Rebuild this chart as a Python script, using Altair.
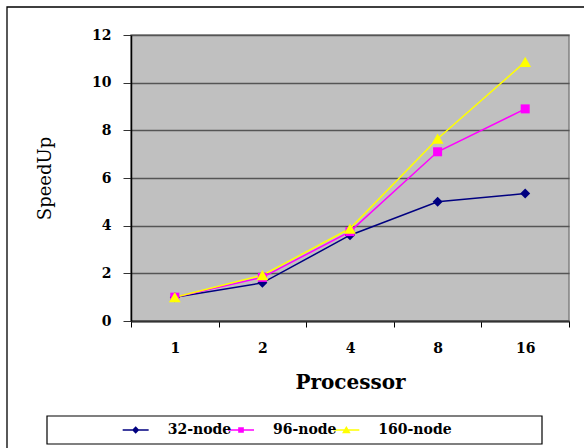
import altair as alt
import pandas as pd

processors = ["1", "2", "4", "8", "16"]
series_names = ["32-node", "96-node", "160-node"]
speed_32 = [1.0, 1.6, 3.6, 5.0, 5.35]
speed_96 = [1.0, 1.83, 3.75, 7.1, 8.9]
speed_160 = [1.0, 1.92, 3.88, 7.65, 10.87]
colors = ["#000080", "#FF00FF", "#FFFF00"]
shapes = ["diamond", "square", "triangle-up"]
shape_sizes = [100, 81, 140]
legend_paths = [
    "M-1,0L1,0"
    "M0,-0.2L0.2,0L0,0.2L-0.2,0Z"
    "M0,-0.14L0.14,0L0,0.14L-0.14,0Z"
    "M0,-0.08L0.08,0L0,0.08L-0.08,0Z"
    "M0,-0.02L0.02,0L0,0.02L-0.02,0Z",
    "M-1,0L1,0"
    "M-0.16,-0.16L0.16,-0.16L0.16,0.16L-0.16,0.16Z"
    "M-0.11,-0.11L0.11,-0.11L0.11,0.11L-0.11,0.11Z"
    "M-0.06,-0.06L0.06,-0.06L0.06,0.06L-0.06,0.06Z"
    "M-0.01,-0.01L0.01,-0.01L0.01,0.01L-0.01,0.01Z",
    "M-1,0L1,0"
    "M0,-0.2L0.23,0.19L-0.23,0.19Z"
    "M0,-0.11L0.15,0.14L-0.15,0.14Z"
    "M0,-0.02L0.07,0.09L-0.07,0.09Z",
]

rows = []
for name, vals in zip(series_names, [speed_32, speed_96, speed_160]):
    for p, v in zip(processors, vals):
        rows.append({"Processor": p, "SpeedUp": v, "series": name})
df = pd.DataFrame(rows)
legend_df = pd.DataFrame({"series": series_names})

FONT = "DejaVu Serif"

x_scale = alt.Scale(type="band", domain=processors, paddingInner=0, paddingOuter=0)
x_axis = alt.Axis(
    title="Processor",
    labelAngle=0,
    tickBand="extent",
    tickSize=6,
    tickColor="#000000",
    domainColor="#333333",
    domainWidth=2,
    labelPadding=14,
    labelFont=FONT,
    labelFontSize=14,
    labelFontWeight="bold",
    labelColor="#000000",
    titleFont=FONT,
    titleFontSize=20,
    titleFontWeight="bold",
    titleColor="#000000",
    titleY=61,
    titleBaseline="middle",
    grid=False,
)
y_enc = alt.Y(
    "SpeedUp:Q",
    scale=alt.Scale(domain=[0, 12], nice=False),
    axis=alt.Axis(
        title="SpeedUp",
        values=[0, 2, 4, 6, 8, 10, 12],
        tickSize=8,
        tickColor="#333333",
        domainColor="#000000",
        domainWidth=1.5,
        labelPadding=12,
        labelFont=FONT,
        labelFontSize=14,
        labelFontWeight="bold",
        labelColor="#000000",
        titleFont=FONT,
        titleFontSize=18,
        titleFontWeight="normal",
        titleColor="#000000",
        titleX=-86,
        titleY=143,
        titleBaseline="middle",
        grid=True,
        gridColor="#555555",
        gridWidth=1.3,
    ),
)

frame = alt.Chart(pd.DataFrame({"a": [0]})).mark_rect(
    filled=False, stroke="#000000", strokeWidth=1.3
).encode(
    x=alt.value(-124), x2=alt.value(640), y=alt.value(-28), y2=alt.value(520)
)

stroke_enc = alt.Stroke(
    "series:N",
    scale=alt.Scale(domain=series_names, range=colors),
    legend=None,
)

lines = alt.Chart(df).mark_line(strokeWidth=1.5).encode(
    x=alt.X("Processor:O", sort=processors, scale=x_scale, axis=x_axis),
    y=y_enc,
    stroke=stroke_enc,
)

point_layers = []
for name, col, shp, sz in zip(series_names, colors, shapes, shape_sizes):
    point_layers.append(
        alt.Chart(df)
        .transform_filter(alt.datum.series == name)
        .mark_point(filled=True, shape=shp, size=sz, color=col, opacity=1)
        .encode(
            x=alt.X("Processor:O", sort=processors, scale=x_scale, axis=None),
            y=y_enc,
        )
    )

# legend (drawn from the series arrays)
legend_x = alt.X(
    "series:N",
    sort=series_names,
    scale=alt.Scale(type="point", domain=series_names, range=[-48, 268]),
    axis=None,
)

legend_box = alt.Chart(pd.DataFrame({"a": [0]})).mark_rect(
    filled=False, stroke="#000000", strokeWidth=1.2
).encode(
    x=alt.value(-84), x2=alt.value(411), y=alt.value(381), y2=alt.value(409)
)

legend_symbols = alt.Chart(legend_df).mark_point(
    filled=False, size=676, strokeWidth=1.5, opacity=1
).encode(
    x=legend_x,
    y=alt.value(395),
    stroke=stroke_enc,
    shape=alt.Shape(
        "series:N",
        scale=alt.Scale(domain=series_names, range=legend_paths),
        legend=None,
    ),
)

legend_labels = alt.Chart(legend_df).mark_text(
    align="left",
    baseline="middle",
    dx=32,
    font=FONT,
    fontSize=14,
    fontWeight="bold",
    color="#000000",
).encode(
    x=legend_x,
    y=alt.value(395),
    text="series:N",
)

chart = (
    alt.layer(
        frame, lines, *point_layers, legend_box, legend_symbols, legend_labels
    )
    .resolve_scale(x="independent")
    .properties(
        width=438,
        height=286,
        autosize=alt.AutoSizeParams(type="none"),
        padding={"left": 131, "top": 35, "right": 15, "bottom": 127},
        background="#FFFFFF",
    )
    .configure_view(fill="#C0C0C0", stroke="#808080", strokeWidth=1.5)
)

chart.save("out.html", embed_options={"renderer": "svg", "actions": False})
